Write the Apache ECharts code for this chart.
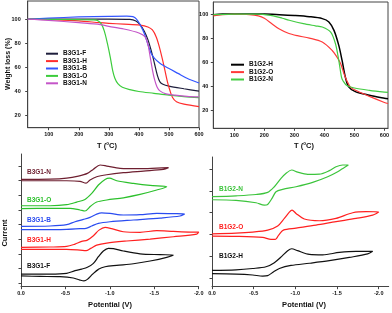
<!DOCTYPE html>
<html><head><meta charset="utf-8">
<script src="https://cdn.jsdelivr.net/npm/echarts/dist/echarts.min.js"></script>
<style>html,body{margin:0;padding:0;background:#fff}#c{width:392px;height:313px}</style>
</head><body><div id="c"></div>
<script>
// ---- TGA, panel (a): B3G1 series  [T (°C), weight %]
const b3g1F = [[30,100],[100,100],[200,100],[300,100],[370,99.8],[390,98.5],[404,95.5],[418,90],[430,83],[442,73],[452,63],[462,53],[470,48],[480,46],[500,44.5],[550,42.3],[600,40.3]];
const b3g1H = [[30,100],[100,99.5],[200,98.5],[270,97],[300,96.5],[350,95.8],[404,95],[430,93.5],[445,91],[458,85],[468,77],[478,67],[487,57],[495,48],[503,41],[512,35],[525,31.5],[550,29.5],[600,27.5]];
const b3g1B = [[30,100],[100,100.8],[200,101.8],[300,102.3],[360,102.5],[380,102],[392,100],[404,95.4],[418,88],[430,79],[440,72],[452,67.5],[470,63.5],[500,59],[530,55],[560,51],[600,47]];
const b3g1O = [[30,100],[100,99.8],[200,99.5],[250,99.3],[265,98.5],[275,96],[285,90],[295,80],[305,68],[313,57],[320,51],[330,46.5],[345,43.5],[370,41.5],[400,40],[450,38.5],[500,37],[550,35.8],[600,35]];
const b3g1N = [[30,100],[100,99],[200,97],[271,95.5],[300,94],[350,91.8],[400,88.5],[420,85.5],[430,79],[438,68],[445,58],[452,50],[460,44],[470,40.5],[490,38],[520,37],[560,36],[600,35.5]];
// ---- TGA, panel (b): B1G2 series
const b1g2H = [[30,99.5],[60,100],[100,100],[200,100],[250,99.5],[300,98.8],[350,97.8],[393,96.2],[415,93.4],[432,86.4],[448,73.9],[459,61.4],[470,47.5],[481,39.5],[503,35.5],[550,32.5],[600,30],[612,29.5]];
const b1g2O = [[30,98.5],[60,99.5],[100,99.8],[150,99.5],[180,98.5],[200,96.5],[225,92],[250,87.5],[280,84],[310,82],[350,80],[393,76.7],[426,69.7],[440,65],[454,58.9],[466,50],[476,44],[486,39.5],[500,37],[550,31.5],[600,26.5],[612,25.6]];
const b1g2N = [[30,99.5],[100,100],[180,100],[200,99.5],[230,98.5],[260,96.5],[283,94.8],[330,92],[370,90.2],[393,89.2],[421,85],[437,75.3],[448,61.4],[457,47.5],[462,44.5],[475,40.5],[500,38.5],[550,36.5],[600,35],[612,34.8]];
// ---- CV, panel (c): [potential V, current (offset, arb. units)]
const cvB3G1F = [[0,0.86],[-0.327,0.86],[-0.514,0.91],[-0.608,1.09],[-0.683,1.2],[-0.747,1.32],[-0.815,1.59],[-0.871,2.04],[-0.927,2.43],[-0.983,2.61],[-1.04,2.59],[-1.152,2.43],[-1.34,2.24],[-1.565,2.18],[-1.715,2.15],[-1.64,2.0],[-1.453,1.75],[-1.265,1.56],[-1.077,1.45],[-0.946,1.36],[-0.871,1.18],[-0.807,0.86],[-0.747,0.5],[-0.709,0.39],[-0.664,0.45],[-0.589,0.59],[-0.439,0.68],[-0.214,0.7],[0,0.73]];
const cvB3G1H = [[0,2.68],[-0.327,2.7],[-0.514,2.74],[-0.608,2.9],[-0.683,3.08],[-0.747,3.17],[-0.815,3.47],[-0.878,3.85],[-0.946,4.04],[-1.021,3.95],[-1.152,3.74],[-1.34,3.7],[-1.528,3.81],[-1.715,3.76],[-1.903,3.72],[-2.0,3.72],[-1.978,3.58],[-1.715,3.4],[-1.453,3.24],[-1.19,3.11],[-0.965,2.97],[-0.852,2.83],[-0.785,2.61],[-0.732,2.45],[-0.664,2.49],[-0.514,2.54],[-0.214,2.54],[0,2.54]];
const cvB3G1B = [[0,4.1],[-0.327,4.13],[-0.514,4.22],[-0.608,4.42],[-0.702,4.58],[-0.777,4.72],[-0.852,4.94],[-0.908,5.03],[-1.002,4.99],[-1.152,4.88],[-1.34,4.9],[-1.528,4.99],[-1.715,4.97],[-1.84,4.94],[-1.79,4.81],[-1.565,4.67],[-1.265,4.54],[-1.002,4.42],[-0.871,4.31],[-0.796,4.13],[-0.732,3.97],[-0.664,3.95],[-0.514,3.9],[-0.214,3.88],[0,3.88]];
const cvB3G1O = [[0,5.51],[-0.327,5.51],[-0.514,5.58],[-0.627,5.76],[-0.72,5.94],[-0.796,6.35],[-0.871,6.92],[-0.946,7.3],[-0.995,7.39],[-1.077,7.21],[-1.265,7.03],[-1.453,6.89],[-1.64,6.8],[-1.528,6.58],[-1.34,6.28],[-1.152,6.05],[-0.965,5.9],[-0.852,5.76],[-0.785,5.49],[-0.72,5.15],[-0.664,5.22],[-0.552,5.33],[-0.327,5.33],[0,5.31]];
const cvB3G1N = [[0,7.3],[-0.327,7.32],[-0.514,7.39],[-0.646,7.53],[-0.747,7.71],[-0.815,8.0],[-0.89,8.28],[-0.965,8.21],[-1.115,8.05],[-1.34,8.03],[-1.528,8.07],[-1.66,8.1],[-1.603,7.98],[-1.378,7.87],[-1.152,7.76],[-0.965,7.62],[-0.852,7.48],[-0.777,7.26],[-0.732,7.05],[-0.664,7.17],[-0.514,7.21],[-0.214,7.21],[0,7.21]];
// ---- CV, panel (d)
const cvB1G2H = [[0,0.75],[-0.288,0.78],[-0.488,0.84],[-0.648,0.92],[-0.748,1.11],[-0.84,1.41],[-0.908,1.66],[-0.956,1.75],[-1.028,1.66],[-1.168,1.49],[-1.328,1.47],[-1.528,1.58],[-1.728,1.63],[-1.928,1.63],[-1.868,1.51],[-1.648,1.35],[-1.408,1.2],[-1.168,1.08],[-0.948,0.98],[-0.808,0.84],[-0.736,0.68],[-0.668,0.51],[-0.608,0.49],[-0.488,0.54],[-0.288,0.58],[0,0.6]];
const cvB1G2O = [[0,2.44],[-0.288,2.47],[-0.488,2.52],[-0.668,2.61],[-0.788,2.8],[-0.868,3.15],[-0.928,3.44],[-0.96,3.53],[-1.008,3.38],[-1.108,3.12],[-1.288,3.04],[-1.488,3.15],[-1.688,3.41],[-1.848,3.46],[-2.0,3.44],[-1.928,3.3],[-1.728,3.15],[-1.488,3.0],[-1.248,2.84],[-1.008,2.7],[-0.856,2.61],[-0.8,2.38],[-0.76,2.18],[-0.708,2.18],[-0.608,2.27],[-0.288,2.32],[0,2.33]];
const cvB1G2N = [[0,4.15],[-0.288,4.19],[-0.528,4.25],[-0.668,4.35],[-0.748,4.61],[-0.828,4.99],[-0.896,5.25],[-0.956,5.38],[-1.028,5.28],[-1.148,5.18],[-1.288,5.19],[-1.408,5.35],[-1.488,5.53],[-1.568,5.61],[-1.636,5.61],[-1.588,5.5],[-1.508,5.3],[-1.388,5.07],[-1.208,4.81],[-1.008,4.61],[-0.848,4.49],[-0.768,4.38],[-0.72,4.07],[-0.668,3.79],[-0.628,3.76],[-0.528,3.87],[-0.288,3.98],[0,4.01]];
// ---- tick labels
const tgaTicksX = [100,200,300,400,500,600];
const tgaTicksY = [20,40,60,80,100];
const cvTicksX = [0,-0.5,-1.0,-1.5,-2.0];
const cvTicksYc = [0.23,1.23,2.23,3.23,4.23,5.23,6.23,7.23,8.23];
const cvTicksYd = [0.41,1.41,2.41,3.41,4.41,5.41];

const FF = 'Liberation Sans, Arial, sans-serif';
const AX = '#444';
const chart = echarts.init(document.getElementById('c'), null, {renderer:'canvas'});

function xAx(g, min, max, ticks, opt) {
  return Object.assign({
    type:'value', gridIndex:g, min:min, max:max,
    axisLine:{show:true, onZero:false, lineStyle:{color:AX, width:1}},
    axisTick:{show:true, inside:false, length:2.5, customValues:ticks, lineStyle:{color:AX}},
    axisLabel:{customValues:ticks, fontSize:5.5, color:'#111', fontFamily:FF, margin:4, fontWeight:'bold'},
    splitLine:{show:false}
  }, opt||{});
}
function yAx(g, min, max, ticks, showLabel, margin) {
  return {
    type:'value', gridIndex:g, min:min, max:max,
    axisLine:{show:true, onZero:false, lineStyle:{color:AX, width:1}},
    axisTick:{show:true, inside:false, length:2.5, customValues:ticks, lineStyle:{color:AX}},
    axisLabel:{show:showLabel, customValues:ticks, fontSize:5.5, color:'#111', fontFamily:FF, margin:margin, fontWeight:'bold'},
    splitLine:{show:false}
  };
}
function ln(name, data, color, xi, w) {
  return {type:'line', name:name, data:data, xAxisIndex:xi, yAxisIndex:xi, showSymbol:false, symbol:'none',
    smooth:0.3, lineStyle:{width:w||1.2, color:color}, itemStyle:{color:color}, animation:false, z:3};
}
const legText = {fontSize:6.5, fontWeight:'bold', color:'#111', fontFamily:FF, lineHeight:7.4};

chart.setOption({
  animation:false,
  backgroundColor:'#fff',
  grid:[
    {left:27.7, top:1, width:171.3, height:126.7, show:true, borderColor:AX, borderWidth:1},
    {left:213.3, top:2, width:175.7, height:126.3, show:true, borderColor:AX, borderWidth:1},
    {left:21, top:154, width:177.7, height:132.7},
    {left:212, top:157, width:176.7, height:129.7}
  ],
  xAxis:[
    xAx(0, 30, 600, tgaTicksX),
    xAx(1, 30, 612, tgaTicksX),
    xAx(2, -2.0, 0, cvTicksX, {inverse:true, axisLabel:{customValues:cvTicksX, fontSize:5.5, color:'#111', fontFamily:FF, margin:4, fontWeight:'bold', formatter:v=>v.toFixed(1)}}),
    xAx(3, -2.12, 0, cvTicksX, {inverse:true, axisLabel:{customValues:cvTicksX, fontSize:5.5, color:'#111', fontFamily:FF, margin:4, fontWeight:'bold', formatter:v=>v.toFixed(1)}})
  ],
  yAxis:[
    yAx(0, 10, 115, tgaTicksY, true, 7),
    yAx(1, 5, 110, tgaTicksY, true, 5),
    yAx(2, 0, 9.03, cvTicksYc, false, 4),
    yAx(3, 0, 5.98, cvTicksYd, false, 4)
  ],
  legend:[
    {data:['B3G1-F','B3G1-H','B3G1-B','B3G1-O','B3G1-N'], orient:'vertical', left:46, top:50, padding:0,
     icon:'rect', itemWidth:12, itemHeight:2, itemGap:0, itemTextGap:3, textStyle:legText, selectedMode:false},
    {data:['B1G2-H','B1G2-O','B1G2-N'], orient:'vertical', left:231, top:61, padding:0,
     icon:'rect', itemWidth:13, itemHeight:2, itemGap:0, itemTextGap:3, textStyle:legText, selectedMode:false}
  ],
  series:[
    ln('B3G1-F', b3g1F, '#1e1e3c', 0),
    ln('B3G1-H', b3g1H, '#ff2d2d', 0),
    ln('B3G1-B', b3g1B, '#3355ff', 0),
    ln('B3G1-O', b3g1O, '#3ccc3c', 0),
    ln('B3G1-N', b3g1N, '#c455c8', 0),
    ln('B1G2-H', b1g2H, '#000000', 1, 1.5),
    ln('B1G2-O', b1g2O, '#ff3a3a', 1),
    ln('B1G2-N', b1g2N, '#44cc44', 1),
    ln('cv B3G1-F', cvB3G1F, '#111111', 2),
    ln('cv B3G1-H', cvB3G1H, '#ff2020', 2),
    ln('cv B3G1-B', cvB3G1B, '#2a4cf0', 2),
    ln('cv B3G1-O', cvB3G1O, '#2cc02c', 2),
    ln('cv B3G1-N', cvB3G1N, '#6e1f30', 2),
    ln('cv B1G2-H', cvB1G2H, '#111111', 3),
    ln('cv B1G2-O', cvB1G2O, '#ff2020', 3),
    ln('cv B1G2-N', cvB1G2N, '#3cc43c', 3)
  ],
  graphic:[
    {type:'text', x:8, y:64, rotation:Math.PI/2, style:{text:'Weight loss (%)', font:'bold 7px '+FF, fill:'#111', align:'center', verticalAlign:'middle'}},
    {type:'text', x:107, y:146, style:{text:'{a|T (}{s|o}{a|C)}', align:'center', verticalAlign:'middle',
      rich:{a:{font:'bold 7.5px '+FF, fill:'#111'}, s:{font:'bold 4.5px '+FF, fill:'#111', padding:[0,0,4,0]}}}},
    {type:'text', x:304, y:146, style:{text:'{a|T (}{s|o}{a|C)}', align:'center', verticalAlign:'middle',
      rich:{a:{font:'bold 7.5px '+FF, fill:'#111'}, s:{font:'bold 4.5px '+FF, fill:'#111', padding:[0,0,4,0]}}}},
    {type:'text', x:5, y:233, rotation:Math.PI/2, style:{text:'Current', font:'bold 7.5px '+FF, fill:'#111', align:'center', verticalAlign:'middle'}},
    {type:'text', x:110, y:305, style:{text:'Potential (V)', font:'bold 7.5px '+FF, fill:'#111', align:'center', verticalAlign:'middle'}},
    {type:'text', x:304, y:305, style:{text:'Potential (V)', font:'bold 7.5px '+FF, fill:'#111', align:'center', verticalAlign:'middle'}},
    {type:'text', x:27, y:172.7, style:{text:'B3G1-N', font:'bold 6.5px '+FF, fill:'#6e1f30', verticalAlign:'middle'}},
    {type:'text', x:27, y:200, style:{text:'B3G1-O', font:'bold 6.5px '+FF, fill:'#2cc02c', verticalAlign:'middle'}},
    {type:'text', x:27, y:220, style:{text:'B3G1-B', font:'bold 6.5px '+FF, fill:'#2a4cf0', verticalAlign:'middle'}},
    {type:'text', x:27, y:240, style:{text:'B3G1-H', font:'bold 6.5px '+FF, fill:'#ff2020', verticalAlign:'middle'}},
    {type:'text', x:27, y:266.7, style:{text:'B3G1-F', font:'bold 6.5px '+FF, fill:'#111', verticalAlign:'middle'}},
    {type:'text', x:219, y:189.3, style:{text:'B1G2-N', font:'bold 6.5px '+FF, fill:'#3cc43c', verticalAlign:'middle'}},
    {type:'text', x:219, y:227.3, style:{text:'B1G2-O', font:'bold 6.5px '+FF, fill:'#ff2020', verticalAlign:'middle'}},
    {type:'text', x:219, y:256, style:{text:'B1G2-H', font:'bold 6.5px '+FF, fill:'#111', verticalAlign:'middle'}}
  ]
});
</script></body></html>
